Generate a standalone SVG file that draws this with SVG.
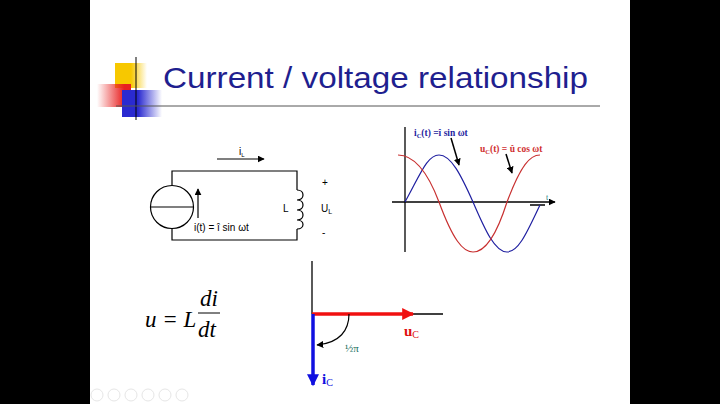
<svg xmlns="http://www.w3.org/2000/svg" width="720" height="404" viewBox="0 0 720 404">
<defs>
<linearGradient id="gy" x1="0" x2="1"><stop offset="0.5" stop-color="#f7c800"/><stop offset="1" stop-color="#f7c800" stop-opacity="0"/></linearGradient>
<linearGradient id="gr" x1="1" x2="0"><stop offset="0.2" stop-color="#e82020"/><stop offset="1" stop-color="#e82020" stop-opacity="0"/></linearGradient>
<linearGradient id="gb" x1="0" x2="1"><stop offset="0.4" stop-color="#2a2ad0"/><stop offset="1" stop-color="#2a2ad0" stop-opacity="0"/></linearGradient>
<marker id="ah" viewBox="0 0 10 10" refX="9" refY="5" markerWidth="7" markerHeight="7" orient="auto-start-reverse" markerUnits="userSpaceOnUse"><path d="M0,0L10,5L0,10z" fill="#000"/></marker>
<marker id="ahr" viewBox="0 0 10 10" refX="9" refY="5" markerWidth="14" markerHeight="12" orient="auto" markerUnits="userSpaceOnUse"><path d="M0,0L10,5L0,10z" fill="#f01010"/></marker>
<marker id="ahb" viewBox="0 0 10 10" refX="9" refY="5" markerWidth="14" markerHeight="12" orient="auto" markerUnits="userSpaceOnUse"><path d="M0,0L10,5L0,10z" fill="#1010e0"/></marker>
</defs>
<style>
.w{stroke:#000;stroke-width:1.2;fill:none}
.s{font-family:"Liberation Sans",Arial,sans-serif;font-size:10px;fill:#000}
.m{font-family:"Liberation Serif","Times New Roman",serif;font-style:italic;font-size:23px;fill:#000}
.g{font-family:"Liberation Serif","Times New Roman",serif;font-weight:bold;font-size:9.5px}
.ic{fill:none;stroke:#e6e6e6;stroke-width:1}
</style>
<rect width="720" height="404" fill="#000"/>
<rect x="90" y="0" width="540" height="404" fill="#fff"/>
<g id="deco">
<rect x="115" y="63" width="32" height="25" fill="url(#gy)"/>
<rect x="97" y="84" width="34" height="23" fill="url(#gr)"/>
<rect x="122" y="90" width="40" height="27" fill="url(#gb)"/>
<line x1="136" y1="57" x2="136" y2="120" stroke="#000" stroke-width="1"/>
<line x1="116" y1="106" x2="600" y2="106" stroke="#555" stroke-width="1"/>
</g>
<text id="title" x="163" y="88" font-family="'Liberation Sans',Arial,sans-serif" font-size="30" fill="#1f1f8f" textLength="425" lengthAdjust="spacingAndGlyphs">Current / voltage relationship</text>
<g id="circuit">
<path class="w" d="M172,185V171H297V190M297,229V240H172V229"/>
<circle class="w" cx="172" cy="207" r="21.5"/>
<line class="w" x1="150.5" y1="207" x2="193.5" y2="207"/>
<path class="w" d="M297,190c8,0 8,10 0,10c8,0 8,10 0,10c8,0 8,10 0,10c8,0 8,9 0,9"/>
<line class="w" x1="198" y1="218" x2="198" y2="189" marker-end="url(#ah)"/>
<line class="w" x1="217" y1="159" x2="264" y2="159" marker-end="url(#ah)"/>
<text class="s" x="239" y="155" font-size="9">i<tspan font-size="6" dy="2">L</tspan></text>
<text class="s" x="194" y="231">i(t) = î sin ωt</text>
<text class="s" x="283" y="212">L</text>
<text class="s" x="322" y="186">+</text>
<text class="s" x="321" y="212">U<tspan font-size="7" dy="2">L</tspan></text>
<text class="s" x="322" y="236">-</text>
</g>
<g id="formula">
<text class="m" x="145" y="327">u = L</text>
<text class="m" x="200" y="306">di</text>
<line x1="198" y1="313" x2="220" y2="313" stroke="#000" stroke-width="1"/>
<text class="m" x="198" y="337">dt</text>
</g>
<g id="graph">
<line x1="405" y1="127" x2="405" y2="252" stroke="#000" stroke-width="1.3"/>
<line x1="392" y1="202" x2="555" y2="202" stroke="#000" stroke-width="1.3" marker-end="url(#ah)"/>
<line x1="530" y1="205" x2="545" y2="205" stroke="#000" stroke-width="1.5"/>
<path d="M405,202C420,175 427,155 439,155C451,155 461,175 473,202C485,230 495,252 507,252C519,252 528,230 540,205" fill="none" stroke="#1f1fa0" stroke-width="1.2"/>
<path d="M398,155C410,155 425,165 439,202C453,240 463,252 473,252C483,252 495,240 507,202C521,165 530,155 540,155" fill="none" stroke="#c83030" stroke-width="1.2"/>
<text class="g" x="414" y="136" fill="#1f1fa0">i<tspan font-size="6.5" dy="2">C</tspan><tspan dy="-2">(t) =î sin ωt</tspan></text>
<text class="g" x="480" y="152" fill="#d03030">u<tspan font-size="6.5" dy="2">C</tspan><tspan dy="-2">(t) = û cos ωt</tspan></text>
<text x="546" y="200" font-family="'Liberation Serif',serif" font-size="8" fill="#208080">t</text>
<line x1="451" y1="138" x2="459" y2="165" stroke="#000" stroke-width="1.5" marker-end="url(#ah)"/>
<line x1="506" y1="154" x2="512" y2="173" stroke="#000" stroke-width="1.5" marker-end="url(#ah)"/>
</g>
<g id="phasor">
<line x1="312" y1="261" x2="312" y2="314" stroke="#000" stroke-width="1.3"/>
<line x1="312" y1="314" x2="443" y2="314" stroke="#000" stroke-width="1.3"/>
<line x1="312" y1="314" x2="413" y2="314" stroke="#f01010" stroke-width="3.5" marker-end="url(#ahr)"/>
<line x1="313" y1="314" x2="313" y2="385" stroke="#1010e0" stroke-width="3.5" marker-end="url(#ahb)"/>
<path d="M349,314C349,330 340,343 317,345" fill="none" stroke="#000" stroke-width="1.2" marker-end="url(#ah)"/>
<text x="404" y="336" font-family="'Liberation Serif',serif" font-weight="bold" font-size="15" fill="#e01010">u<tspan font-size="10" dy="2" font-weight="normal">C</tspan></text>
<text x="322" y="384" font-family="'Liberation Serif',serif" font-weight="bold" font-size="15" fill="#1010e0">i<tspan font-size="10" dy="2" font-weight="normal">C</tspan></text>
<text x="345" y="352" font-family="'Liberation Serif',serif" font-size="11" fill="#207060">½π</text>
</g>
<g id="toolbar">
<circle class="ic" cx="97" cy="395" r="6"/><circle class="ic" cx="114" cy="395" r="6"/><circle class="ic" cx="131" cy="395" r="6"/><circle class="ic" cx="148" cy="395" r="6"/><circle class="ic" cx="165" cy="395" r="6"/><circle class="ic" cx="182" cy="395" r="6"/>
</g>
</svg>
